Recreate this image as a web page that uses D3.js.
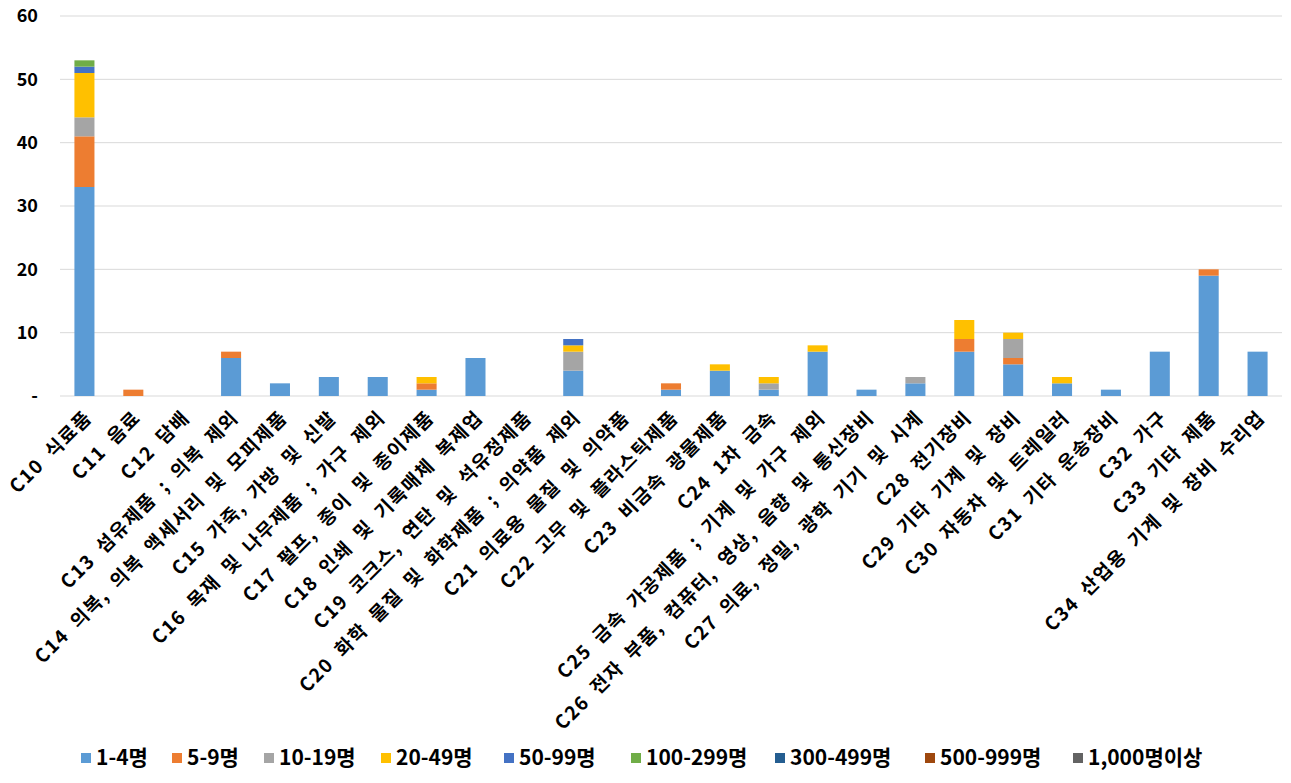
<!DOCTYPE html>
<html>
<head>
<meta charset="utf-8">
<script src="https://cdn.jsdelivr.net/npm/d3@7"></script>
<style>
  body { margin: 0; background: #fff; }
  text { font-family: "Malgun Gothic", "Noto Sans CJK KR", sans-serif; font-weight: bold; fill: #000; }
</style>
</head>
<body>
<svg id="main" width="1291" height="783"></svg>
<script>
// 업종 분류
const categories = [
  'C10 식료품', 'C11 음료', 'C12 담배', 'C13 섬유제품 ; 의복 제외',
  'C14 의복, 의복 액세서리 및 모피제품', 'C15 가죽, 가방 및 신발',
  'C16 목재 및 나무제품 ; 가구 제외', 'C17 펄프, 종이 및 종이제품',
  'C18 인쇄 및 기록매체 복제업', 'C19 코크스, 연탄 및 석유정제품',
  'C20 화학 물질 및 화학제품 ; 의약품 제외', 'C21 의료용 물질 및 의약품',
  'C22 고무 및 플라스틱제품', 'C23 비금속 광물제품', 'C24 1차 금속',
  'C25 금속 가공제품 ; 기계 및 가구 제외', 'C26 전자 부품, 컴퓨터, 영상, 음향 및 통신장비',
  'C27 의료, 정밀, 광학 기기 및 시계', 'C28 전기장비', 'C29 기타 기계 및 장비',
  'C30 자동차 및 트레일러', 'C31 기타 운송장비', 'C32 가구', 'C33 기타 제품',
  'C34 산업용 기계 및 장비 수리업'
];

// 규모별 계열
const seriesNames = ['1-4명', '5-9명', '10-19명', '20-49명', '50-99명', '100-299명', '300-499명', '500-999명', '1,000명이상'];
const seriesColors = ['#5B9BD5', '#ED7D31', '#A5A5A5', '#FFC000', '#4472C4', '#70AD47', '#255E91', '#9E480E', '#636363'];

// 계열별 값 (categories 순서)
const s1_4     = [33, 0, 0, 6, 2, 3, 3, 1, 6, 0, 4, 0, 1, 4, 1, 7, 1, 2, 7, 5, 2, 1, 7, 19, 7];
const s5_9     = [8, 1, 0, 1, 0, 0, 0, 1, 0, 0, 0, 0, 1, 0, 0, 0, 0, 0, 2, 1, 0, 0, 0, 1, 0];
const s10_19   = [3, 0, 0, 0, 0, 0, 0, 0, 0, 0, 3, 0, 0, 0, 1, 0, 0, 1, 0, 3, 0, 0, 0, 0, 0];
const s20_49   = [7, 0, 0, 0, 0, 0, 0, 1, 0, 0, 1, 0, 0, 1, 1, 1, 0, 0, 3, 1, 1, 0, 0, 0, 0];
const s50_99   = [1, 0, 0, 0, 0, 0, 0, 0, 0, 0, 1, 0, 0, 0, 0, 0, 0, 0, 0, 0, 0, 0, 0, 0, 0];
const s100_299 = [1, 0, 0, 0, 0, 0, 0, 0, 0, 0, 0, 0, 0, 0, 0, 0, 0, 0, 0, 0, 0, 0, 0, 0, 0];
const s300_499 = [0, 0, 0, 0, 0, 0, 0, 0, 0, 0, 0, 0, 0, 0, 0, 0, 0, 0, 0, 0, 0, 0, 0, 0, 0];
const s500_999 = [0, 0, 0, 0, 0, 0, 0, 0, 0, 0, 0, 0, 0, 0, 0, 0, 0, 0, 0, 0, 0, 0, 0, 0, 0];
const s1000    = [0, 0, 0, 0, 0, 0, 0, 0, 0, 0, 0, 0, 0, 0, 0, 0, 0, 0, 0, 0, 0, 0, 0, 0, 0];

const yTicks = [0, 10, 20, 30, 40, 50, 60];

const allSeries = [s1_4, s5_9, s10_19, s20_49, s50_99, s100_299, s300_499, s500_999, s1000];

// 스택용 행 데이터
const rows = categories.map((c, i) => {
  const r = { cat: c };
  seriesNames.forEach((s, k) => { r[s] = allSeries[k][i]; });
  return r;
});

const svg = d3.select('svg#main');
const margin = { left: 60, right: 9, top: 16, bottom: 387 };
const W = 1291, H = 783;

const x = d3.scaleBand()
  .domain(categories)
  .range([margin.left, W - margin.right])
  .padding(0);

const y = d3.scaleLinear()
  .domain([0, 60])
  .range([H - margin.bottom, margin.top]);

// 눈금선
svg.append('g')
  .selectAll('line')
  .data(yTicks)
  .join('line')
  .attr('x1', margin.left)
  .attr('x2', W - margin.right)
  .attr('y1', d => y(d))
  .attr('y2', d => y(d))
  .attr('stroke', '#d9d9d9')
  .attr('stroke-width', 1);

// y축 라벨
svg.append('g')
  .selectAll('text')
  .data(yTicks)
  .join('text')
  .attr('x', 38)
  .attr('y', d => y(d))
  .attr('dy', '0.35em')
  .attr('text-anchor', 'end')
  .style('font-size', '18px')
  .text(d => d === 0 ? '-' : d);

// 막대
const stack = d3.stack().keys(seriesNames);
const stacked = stack(rows);
const barW = x.bandwidth() * 0.41;

svg.append('g')
  .selectAll('g')
  .data(stacked)
  .join('g')
  .attr('fill', (d, i) => seriesColors[i])
  .selectAll('rect')
  .data(d => d.filter(p => p[1] - p[0] > 0))
  .join('rect')
  .attr('x', d => x(d.data.cat) + (x.bandwidth() - barW) / 2)
  .attr('y', d => y(d[1]))
  .attr('width', barW)
  .attr('height', d => y(d[0]) - y(d[1]));

// x축 라벨 (45도 회전)
svg.append('g')
  .selectAll('text')
  .data(categories)
  .join('text')
  .attr('transform', d => `translate(${x(d) + x.bandwidth() / 2 + 4},${y(0) + 18}) rotate(-45)`)
  .attr('text-anchor', 'end')
  .attr('dy', '0.35em')
  .style('font-size', '19px')
  .style('letter-spacing', '1.5px')
  .style('word-spacing', '5px')
  .text(d => d);

// 범례
const legendX = [81, 172, 264, 381, 504, 631, 775, 925, 1073];
const legend = svg.append('g')
  .selectAll('g')
  .data(seriesNames)
  .join('g')
  .attr('transform', (d, i) => `translate(${legendX[i]},758)`);

legend.append('rect')
  .attr('x', 0)
  .attr('y', -5)
  .attr('width', 10)
  .attr('height', 10)
  .attr('fill', (d, i) => seriesColors[i]);

legend.append('text')
  .attr('x', 15)
  .attr('dy', '0.35em')
  .style('font-size', '21px')
  .text(d => d);
</script>
</body>
</html>
